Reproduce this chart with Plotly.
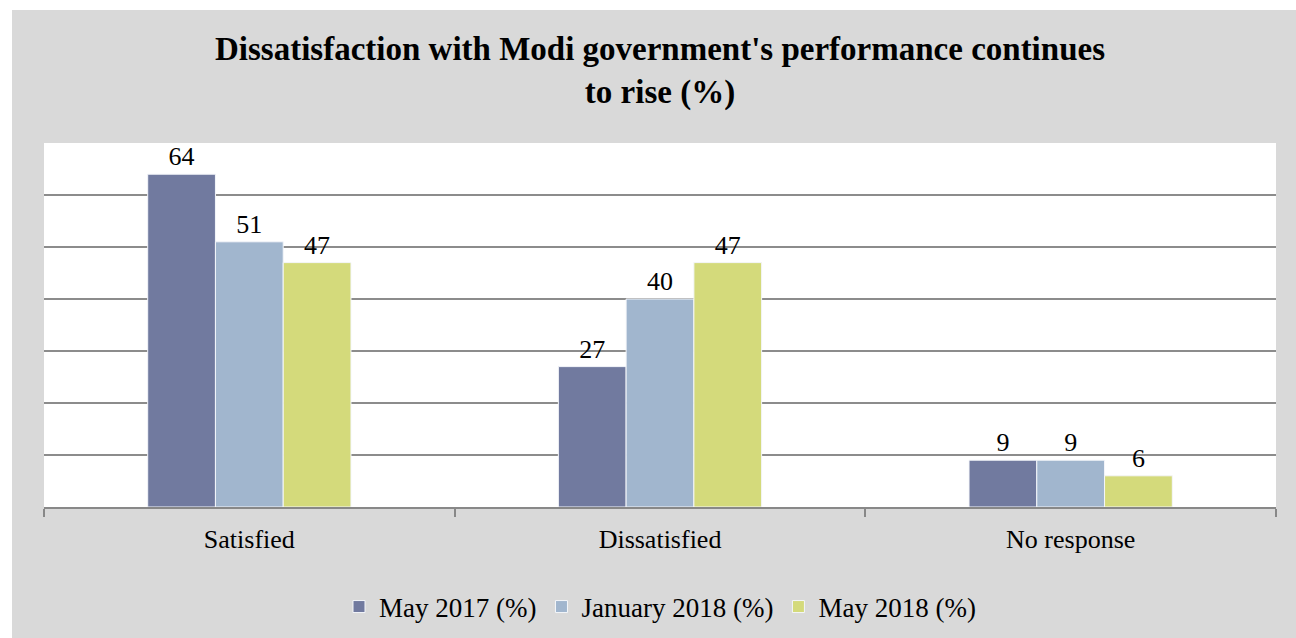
import plotly.graph_objects as go

categories = ["Satisfied", "Dissatisfied", "No response"]
series_names = ["May 2017 (%)", "January 2018 (%)", "May 2018 (%)"]
may2017 = [64, 27, 9]
jan2018 = [51, 40, 9]
may2018 = [47, 47, 6]
colors = ["#717a9f", "#a1b6ce", "#d4da7b"]

FONT = "Liberation Serif"
W, H = 1296, 638
L, R, T, B = 44, 20, 143, 131
pw, ph = W - L - R, H - T - B

fig = go.Figure()
for name, vals, col in zip(series_names, [may2017, jan2018, may2018], colors):
    fig.add_trace(go.Bar(
        x=categories, y=vals, name=name,
        marker=dict(color=col, line=dict(color="#f4f6fa", width=1)),
        text=[str(v) for v in vals], textposition="outside",
        textfont=dict(family=FONT, size=26, color="#000000"),
        constraintext="none",
        cliponaxis=False,
    ))

def px2x(px):
    return (px - L) / pw

def py2y(py):
    return (H - B - py) / ph

# white strips at left and top (outside the gray chart frame)
fig.add_shape(type="rect", xref="paper", yref="paper",
              x0=px2x(0), x1=px2x(12), y0=py2y(H), y1=py2y(0),
              fillcolor="#ffffff", line=dict(width=0), layer="below")
fig.add_shape(type="rect", xref="paper", yref="paper",
              x0=px2x(0), x1=px2x(W), y0=py2y(10), y1=py2y(0),
              fillcolor="#ffffff", line=dict(width=0), layer="below")

fig.update_layout(
    width=W, height=H,
    margin=dict(l=L, r=R, t=T, b=B, autoexpand=False),
    paper_bgcolor="#d9d9d9",
    plot_bgcolor="#ffffff",
    barmode="group",
    bargap=0.505,
    bargroupgap=0,
    title=dict(
        text="<b>Dissatisfaction with Modi government's performance continues<br>to rise (%)</b>",
        x=0.5, xref="paper", xanchor="center",
        y=1 - 60 / H, yref="container", yanchor="middle",
        font=dict(family=FONT, size=33, color="#000000"),
    ),
    xaxis=dict(
        type="category", tickson="boundaries", ticks="outside", ticklen=8,
        tickcolor="#888888", tickwidth=1.5,
        showline=True, linecolor="#888888", linewidth=2,
        showgrid=False, range=[-0.5, 2.5], automargin=False,
        ticklabelstandoff=8,
        tickfont=dict(family=FONT, size=26, color="#000000"),
    ),
    yaxis=dict(
        range=[0, 70], dtick=10, showticklabels=False, ticks="",
        showgrid=True, gridcolor="#8c8c8c", gridwidth=1.5,
        zeroline=False, showline=False, automargin=False,
    ),
    legend=dict(
        orientation="h", x=0.5, xanchor="center", y=py2y(607), yanchor="middle",
        font=dict(family=FONT, size=27, color="#000000"),
        bgcolor="rgba(0,0,0,0)",
        itemwidth=30,
    ),
    showlegend=True,
)

fig.write_html("out.html")
